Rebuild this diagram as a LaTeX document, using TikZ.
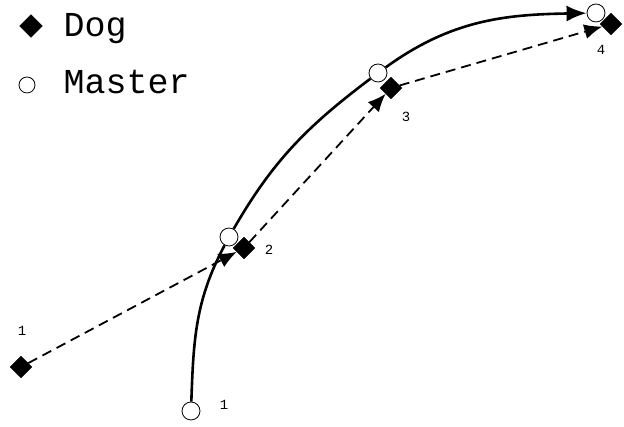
\documentclass[tikz,border=0pt]{standalone}
\usepackage{fontspec}
\setmonofont{Liberation Mono}
\usetikzlibrary{arrows.meta,shapes.geometric}

\begin{document}
\begin{tikzpicture}[
    x=1pt, y=1pt,
    font=\ttfamily,
    master/.style={circle, draw, fill=white, line width=0.8pt,
      minimum size=18pt, inner sep=0pt},
    dog/.style={diamond, draw, fill=black, minimum size=22pt, inner sep=0pt},
    mpath/.style={-{Latex[length=20pt,width=16pt]}, line width=2.6pt},
    dpath/.style={-{Latex[length=18pt,width=15pt]}, line width=1.8pt,
      dash pattern=on 10pt off 6pt},
    tag/.style={font=\ttfamily\fontsize{14}{16}\selectfont},
    legend/.style={anchor=base west, font=\ttfamily\fontsize{35}{40}\selectfont},
  ]
\useasboundingbox (0,0) rectangle (624,427);

% ===== Master =====
\node[master] (m1) at (191,16) {};
\node[master] (m2) at (229,190) {};
\node[master] (m3) at (378,354) {};
\node[master] (m4) at (596,414) {};

% ===== Dog =====
\node[dog] (d1) at (21,60) {};
\node[dog] (d2) at (244,179) {};
\node[dog] (d3) at (391,339) {};
\node[dog] (d4) at (611,403) {};

% Paths
\draw[line width=2.6pt] (m1) to[out=88, in=-118] (m2);
\draw[line width=2.6pt] (m2) to[out=60, in=-143] (m3);
\draw[mpath] (m3) to[out=36, in=181] (m4);
\draw[dpath] (d1) -- (d2);
\draw[dpath] (d2) -- (d3);
\draw[dpath] (d3) -- (d4);

% Step labels
\node[tag] (dl1) at (22,96) {1};
\node[tag] (ml1) at (224,22) {1};
\node[tag] (l2) at (269,177) {2};
\node[tag] (l3) at (406,310) {3};
\node[tag] (l4) at (601,377) {4};

% ===== Legend =====
\node[dog, minimum size=23pt] (kDog) at (31,401) {};
\node[legend] (tDog) at (60,390) {Dog};
\node[master, minimum size=16pt] (kMaster) at (27,342) {};
\node[legend] (tMaster) at (60,333) {Master};

\end{tikzpicture}
\end{document}
